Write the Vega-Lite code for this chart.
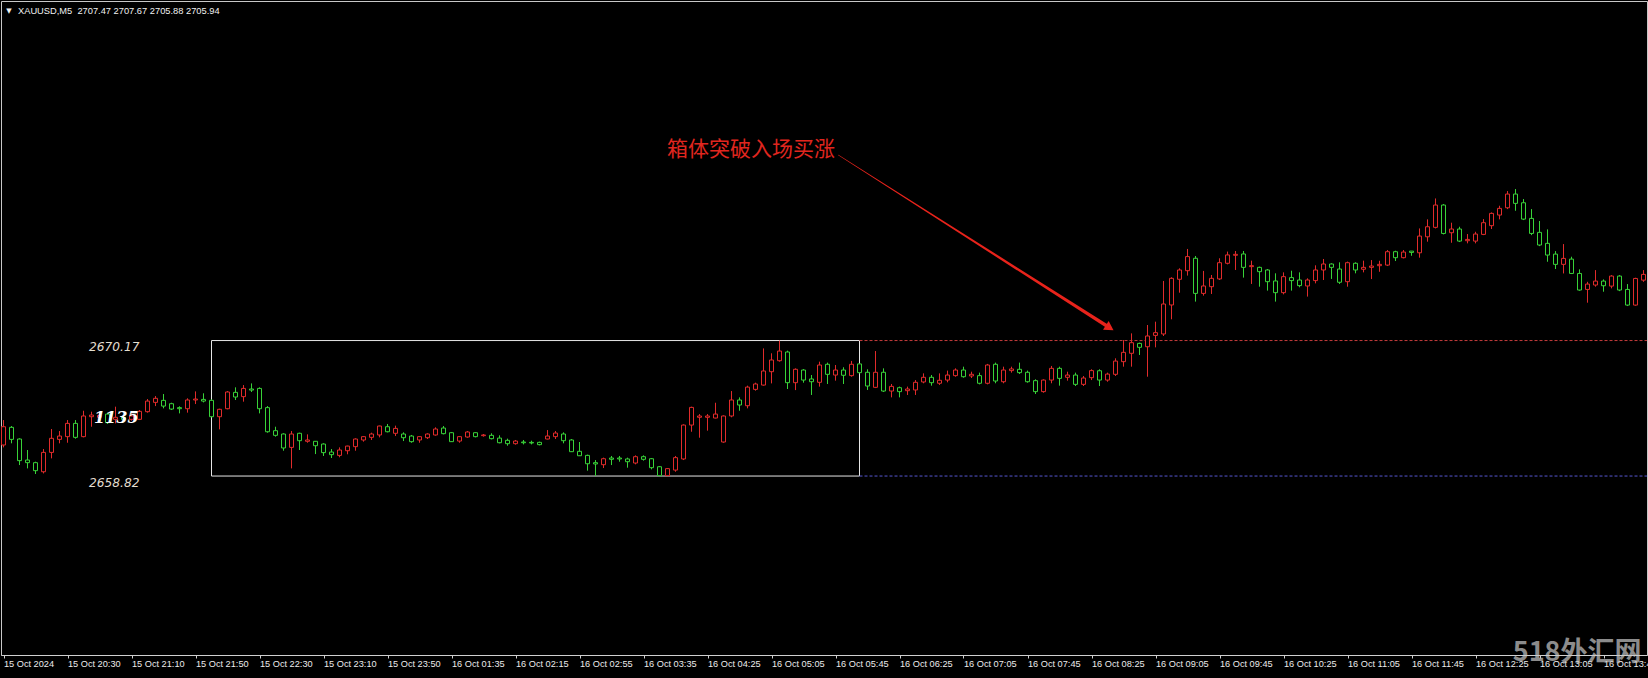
{
"$schema": "https://vega.github.io/schema/vega-lite/v6.json",
"width": 1646, "height": 654,
"autosize": {"type": "none"},
"padding": {"left": 1, "top": 1, "right": 1, "bottom": 23},
"background": "black",
"config": {
  "view": {"stroke": "#c8c8c8", "strokeWidth": 1},
  "axis": {"grid": false, "domainColor": "#d0d0d0", "tickColor": "#d0d0d0", "labelColor": "#ececec", "labelFont": "Liberation Sans", "labelFontSize": 9.2, "tickSize": 3}
},
"datasets": {
"bars": [
{"i":0,"o":2661.42,"h":2663.51,"l":2661.22,"c":2662.95},
{"i":1,"o":2662.90,"h":2663.01,"l":2661.56,"c":2661.89},
{"i":2,"o":2661.92,"h":2661.98,"l":2659.74,"c":2660.11},
{"i":3,"o":2660.16,"h":2661.00,"l":2659.46,"c":2659.94},
{"i":4,"o":2659.94,"h":2660.02,"l":2658.99,"c":2659.27},
{"i":5,"o":2659.18,"h":2661.08,"l":2659.04,"c":2660.80},
{"i":6,"o":2660.80,"h":2662.76,"l":2660.30,"c":2661.98},
{"i":7,"o":2661.89,"h":2662.59,"l":2661.56,"c":2662.17},
{"i":8,"o":2662.12,"h":2663.51,"l":2661.61,"c":2663.23},
{"i":9,"o":2663.23,"h":2663.51,"l":2661.95,"c":2662.06},
{"i":10,"o":2662.12,"h":2664.29,"l":2662.06,"c":2663.85},
{"i":11,"o":2663.79,"h":2664.21,"l":2662.95,"c":2663.93},
{"i":12,"o":2663.74,"h":2664.07,"l":2663.51,"c":2663.90},
{"i":13,"o":2664.01,"h":2664.13,"l":2663.18,"c":2663.29},
{"i":14,"o":2663.57,"h":2664.63,"l":2663.23,"c":2663.74},
{"i":15,"o":2663.74,"h":2663.93,"l":2663.37,"c":2663.57},
{"i":16,"o":2663.57,"h":2664.07,"l":2663.46,"c":2663.85},
{"i":17,"o":2663.57,"h":2664.35,"l":2663.51,"c":2664.24},
{"i":18,"o":2664.21,"h":2665.27,"l":2664.13,"c":2665.10},
{"i":19,"o":2664.99,"h":2665.52,"l":2664.68,"c":2665.33},
{"i":20,"o":2665.16,"h":2665.69,"l":2664.49,"c":2664.68},
{"i":21,"o":2664.88,"h":2664.96,"l":2664.35,"c":2664.43},
{"i":22,"o":2664.55,"h":2664.66,"l":2664.07,"c":2664.46},
{"i":23,"o":2664.46,"h":2665.33,"l":2664.13,"c":2665.19},
{"i":24,"o":2665.19,"h":2665.91,"l":2664.85,"c":2665.27},
{"i":25,"o":2665.24,"h":2665.75,"l":2664.99,"c":2665.10},
{"i":26,"o":2665.16,"h":2665.24,"l":2663.74,"c":2663.79},
{"i":27,"o":2663.79,"h":2664.46,"l":2662.73,"c":2664.41},
{"i":28,"o":2664.46,"h":2665.94,"l":2664.41,"c":2665.86},
{"i":29,"o":2665.83,"h":2666.25,"l":2665.19,"c":2665.44},
{"i":30,"o":2665.47,"h":2666.44,"l":2665.05,"c":2666.16},
{"i":31,"o":2666.11,"h":2666.58,"l":2665.86,"c":2666.02},
{"i":32,"o":2666.16,"h":2666.25,"l":2664.07,"c":2664.46},
{"i":33,"o":2664.55,"h":2664.68,"l":2662.45,"c":2662.53},
{"i":34,"o":2662.62,"h":2662.95,"l":2662.12,"c":2662.23},
{"i":35,"o":2662.34,"h":2662.40,"l":2660.94,"c":2661.17},
{"i":36,"o":2661.22,"h":2662.59,"l":2659.46,"c":2662.34},
{"i":37,"o":2662.40,"h":2662.45,"l":2661.00,"c":2661.78},
{"i":38,"o":2661.73,"h":2662.31,"l":2661.61,"c":2661.84},
{"i":39,"o":2661.73,"h":2661.75,"l":2660.66,"c":2661.36},
{"i":40,"o":2661.50,"h":2661.56,"l":2660.50,"c":2660.78},
{"i":41,"o":2660.83,"h":2661.08,"l":2660.33,"c":2660.61},
{"i":42,"o":2660.55,"h":2661.22,"l":2660.39,"c":2661.00},
{"i":43,"o":2660.94,"h":2661.36,"l":2660.64,"c":2661.33},
{"i":44,"o":2661.28,"h":2661.98,"l":2660.94,"c":2661.92},
{"i":45,"o":2661.84,"h":2662.17,"l":2661.70,"c":2662.12},
{"i":46,"o":2662.06,"h":2662.45,"l":2661.84,"c":2662.34},
{"i":47,"o":2662.26,"h":2663.04,"l":2662.06,"c":2663.01},
{"i":48,"o":2662.95,"h":2663.18,"l":2662.48,"c":2662.53},
{"i":49,"o":2662.40,"h":2663.04,"l":2662.17,"c":2662.81},
{"i":50,"o":2662.34,"h":2662.48,"l":2661.75,"c":2662.03},
{"i":51,"o":2662.17,"h":2662.26,"l":2661.61,"c":2661.70},
{"i":52,"o":2661.84,"h":2662.17,"l":2661.61,"c":2662.12},
{"i":53,"o":2662.03,"h":2662.40,"l":2661.92,"c":2662.34},
{"i":54,"o":2662.26,"h":2662.90,"l":2662.20,"c":2662.76},
{"i":55,"o":2662.84,"h":2663.01,"l":2662.31,"c":2662.37},
{"i":56,"o":2662.45,"h":2662.51,"l":2661.67,"c":2661.70},
{"i":57,"o":2661.75,"h":2662.17,"l":2661.61,"c":2662.12},
{"i":58,"o":2662.09,"h":2662.59,"l":2662.03,"c":2662.51},
{"i":59,"o":2662.45,"h":2662.48,"l":2662.06,"c":2662.12},
{"i":60,"o":2662.20,"h":2662.34,"l":2662.12,"c":2662.26},
{"i":61,"o":2662.23,"h":2662.40,"l":2661.89,"c":2661.95},
{"i":62,"o":2662.00,"h":2662.23,"l":2661.56,"c":2661.61},
{"i":63,"o":2661.81,"h":2661.95,"l":2661.36,"c":2661.53},
{"i":64,"o":2661.53,"h":2661.84,"l":2661.45,"c":2661.75},
{"i":65,"o":2661.67,"h":2661.84,"l":2661.47,"c":2661.61},
{"i":66,"o":2661.64,"h":2661.78,"l":2661.47,"c":2661.59},
{"i":67,"o":2661.64,"h":2661.70,"l":2661.39,"c":2661.45},
{"i":68,"o":2661.92,"h":2662.67,"l":2661.89,"c":2662.17},
{"i":69,"o":2662.12,"h":2662.59,"l":2661.92,"c":2662.42},
{"i":70,"o":2662.34,"h":2662.48,"l":2661.56,"c":2661.78},
{"i":71,"o":2661.84,"h":2661.92,"l":2660.83,"c":2660.86},
{"i":72,"o":2660.89,"h":2661.67,"l":2660.50,"c":2660.52},
{"i":73,"o":2660.55,"h":2660.61,"l":2659.27,"c":2659.85},
{"i":74,"o":2659.94,"h":2660.16,"l":2658.82,"c":2659.83},
{"i":75,"o":2659.77,"h":2660.36,"l":2659.49,"c":2660.27},
{"i":76,"o":2660.33,"h":2660.50,"l":2659.74,"c":2660.22},
{"i":77,"o":2660.33,"h":2660.50,"l":2660.02,"c":2660.25},
{"i":78,"o":2660.25,"h":2660.36,"l":2659.52,"c":2660.02},
{"i":79,"o":2659.91,"h":2660.55,"l":2659.80,"c":2660.44},
{"i":80,"o":2660.44,"h":2660.55,"l":2660.11,"c":2660.22},
{"i":81,"o":2660.27,"h":2660.33,"l":2659.38,"c":2659.52},
{"i":82,"o":2659.60,"h":2659.66,"l":2658.82,"c":2658.85},
{"i":83,"o":2658.85,"h":2659.49,"l":2658.82,"c":2659.44},
{"i":84,"o":2659.32,"h":2660.50,"l":2659.18,"c":2660.36},
{"i":85,"o":2660.25,"h":2663.15,"l":2660.16,"c":2663.09},
{"i":86,"o":2663.09,"h":2664.63,"l":2662.53,"c":2664.57},
{"i":87,"o":2663.74,"h":2664.01,"l":2662.03,"c":2663.85},
{"i":88,"o":2663.74,"h":2664.01,"l":2662.62,"c":2663.85},
{"i":89,"o":2663.68,"h":2664.96,"l":2663.65,"c":2664.01},
{"i":90,"o":2661.67,"h":2663.90,"l":2661.61,"c":2663.85},
{"i":91,"o":2663.85,"h":2665.94,"l":2663.74,"c":2665.19},
{"i":92,"o":2665.19,"h":2665.41,"l":2664.29,"c":2664.77},
{"i":93,"o":2664.71,"h":2666.39,"l":2664.49,"c":2666.27},
{"i":94,"o":2666.08,"h":2666.64,"l":2665.97,"c":2666.53},
{"i":95,"o":2666.44,"h":2669.51,"l":2666.39,"c":2667.62},
{"i":96,"o":2667.56,"h":2669.10,"l":2666.58,"c":2668.54},
{"i":97,"o":2668.48,"h":2670.17,"l":2668.40,"c":2669.29},
{"i":98,"o":2669.21,"h":2669.32,"l":2666.11,"c":2666.64},
{"i":99,"o":2666.64,"h":2667.84,"l":2666.02,"c":2667.76},
{"i":100,"o":2667.70,"h":2667.78,"l":2666.64,"c":2666.86},
{"i":101,"o":2666.95,"h":2667.28,"l":2665.61,"c":2666.72},
{"i":102,"o":2666.67,"h":2668.40,"l":2666.31,"c":2668.12},
{"i":103,"o":2668.18,"h":2668.32,"l":2666.53,"c":2667.34},
{"i":104,"o":2667.28,"h":2668.12,"l":2666.81,"c":2667.70},
{"i":105,"o":2667.70,"h":2667.93,"l":2666.53,"c":2667.26},
{"i":106,"o":2667.23,"h":2668.46,"l":2667.14,"c":2668.18},
{"i":107,"o":2668.21,"h":2668.26,"l":2667.42,"c":2667.48},
{"i":108,"o":2667.51,"h":2667.76,"l":2666.03,"c":2666.36},
{"i":109,"o":2666.25,"h":2669.29,"l":2666.19,"c":2667.51},
{"i":110,"o":2667.51,"h":2667.84,"l":2665.86,"c":2665.94},
{"i":111,"o":2665.94,"h":2666.53,"l":2665.41,"c":2666.33},
{"i":112,"o":2666.22,"h":2666.31,"l":2665.41,"c":2665.89},
{"i":113,"o":2665.97,"h":2666.31,"l":2665.61,"c":2666.11},
{"i":114,"o":2666.03,"h":2666.86,"l":2665.61,"c":2666.67},
{"i":115,"o":2666.70,"h":2667.42,"l":2666.59,"c":2667.09},
{"i":116,"o":2667.09,"h":2667.28,"l":2666.39,"c":2666.64},
{"i":117,"o":2666.59,"h":2667.42,"l":2666.45,"c":2666.84},
{"i":118,"o":2666.86,"h":2667.65,"l":2666.67,"c":2667.28},
{"i":119,"o":2667.23,"h":2667.84,"l":2667.14,"c":2667.70},
{"i":120,"o":2667.70,"h":2667.98,"l":2667.06,"c":2667.14},
{"i":121,"o":2667.20,"h":2667.56,"l":2667.03,"c":2667.34},
{"i":122,"o":2667.23,"h":2667.48,"l":2666.50,"c":2666.59},
{"i":123,"o":2666.59,"h":2668.21,"l":2666.50,"c":2668.12},
{"i":124,"o":2668.18,"h":2668.32,"l":2666.59,"c":2666.78},
{"i":125,"o":2666.72,"h":2667.98,"l":2666.59,"c":2667.70},
{"i":126,"o":2667.65,"h":2667.98,"l":2667.48,"c":2667.79},
{"i":127,"o":2667.76,"h":2668.32,"l":2667.37,"c":2667.48},
{"i":128,"o":2667.51,"h":2667.65,"l":2666.64,"c":2666.72},
{"i":129,"o":2666.81,"h":2666.92,"l":2665.69,"c":2665.89},
{"i":130,"o":2665.89,"h":2666.92,"l":2665.80,"c":2666.86},
{"i":131,"o":2666.86,"h":2668.04,"l":2666.59,"c":2667.84},
{"i":132,"o":2667.84,"h":2667.98,"l":2666.39,"c":2667.00},
{"i":133,"o":2667.09,"h":2667.56,"l":2666.81,"c":2667.28},
{"i":134,"o":2667.28,"h":2667.48,"l":2666.36,"c":2666.50},
{"i":135,"o":2666.50,"h":2667.20,"l":2666.36,"c":2667.03},
{"i":136,"o":2667.06,"h":2667.76,"l":2666.86,"c":2667.65},
{"i":137,"o":2667.64,"h":2667.76,"l":2666.36,"c":2666.86},
{"i":138,"o":2666.86,"h":2667.48,"l":2666.72,"c":2667.36},
{"i":139,"o":2667.34,"h":2668.68,"l":2667.20,"c":2668.45},
{"i":140,"o":2668.40,"h":2670.21,"l":2667.98,"c":2669.18},
{"i":141,"o":2669.10,"h":2670.77,"l":2667.98,"c":2669.99},
{"i":142,"o":2669.93,"h":2669.99,"l":2668.96,"c":2669.60},
{"i":143,"o":2669.65,"h":2671.47,"l":2667.14,"c":2670.55},
{"i":144,"o":2670.60,"h":2671.75,"l":2669.60,"c":2670.83},
{"i":145,"o":2670.72,"h":2675.16,"l":2670.55,"c":2673.23},
{"i":146,"o":2673.15,"h":2675.47,"l":2671.95,"c":2675.38},
{"i":147,"o":2675.30,"h":2676.22,"l":2674.18,"c":2676.08},
{"i":148,"o":2676.02,"h":2677.84,"l":2675.61,"c":2677.20},
{"i":149,"o":2677.06,"h":2677.25,"l":2673.43,"c":2674.12},
{"i":150,"o":2674.12,"h":2676.00,"l":2673.93,"c":2674.74},
{"i":151,"o":2674.68,"h":2675.66,"l":2674.07,"c":2675.38},
{"i":152,"o":2675.33,"h":2677.06,"l":2675.24,"c":2676.69},
{"i":153,"o":2676.64,"h":2677.62,"l":2676.55,"c":2677.34},
{"i":154,"o":2677.31,"h":2677.67,"l":2676.08,"c":2677.39},
{"i":155,"o":2677.42,"h":2677.67,"l":2675.44,"c":2676.30},
{"i":156,"o":2676.36,"h":2676.86,"l":2674.91,"c":2676.44},
{"i":157,"o":2676.30,"h":2676.36,"l":2674.68,"c":2675.94},
{"i":158,"o":2676.08,"h":2676.16,"l":2674.35,"c":2675.10},
{"i":159,"o":2675.16,"h":2675.80,"l":2673.43,"c":2674.18},
{"i":160,"o":2674.18,"h":2675.88,"l":2674.04,"c":2675.52},
{"i":161,"o":2675.44,"h":2676.02,"l":2674.35,"c":2675.19},
{"i":162,"o":2675.24,"h":2675.88,"l":2674.63,"c":2674.77},
{"i":163,"o":2674.74,"h":2675.38,"l":2673.85,"c":2675.24},
{"i":164,"o":2675.19,"h":2676.47,"l":2674.96,"c":2676.08},
{"i":165,"o":2676.08,"h":2677.00,"l":2675.24,"c":2676.58},
{"i":166,"o":2676.58,"h":2676.64,"l":2675.33,"c":2676.30},
{"i":167,"o":2676.16,"h":2676.72,"l":2674.91,"c":2675.05},
{"i":168,"o":2675.10,"h":2676.78,"l":2674.68,"c":2676.69},
{"i":169,"o":2676.64,"h":2676.72,"l":2675.80,"c":2676.08},
{"i":170,"o":2676.14,"h":2676.86,"l":2675.88,"c":2676.30},
{"i":171,"o":2676.30,"h":2676.91,"l":2675.32,"c":2676.41},
{"i":172,"o":2676.44,"h":2676.85,"l":2675.93,"c":2676.55},
{"i":173,"o":2676.49,"h":2677.75,"l":2676.41,"c":2677.61},
{"i":174,"o":2677.61,"h":2677.69,"l":2676.83,"c":2677.11},
{"i":175,"o":2677.11,"h":2677.75,"l":2677.05,"c":2677.58},
{"i":176,"o":2677.66,"h":2677.66,"l":2677.27,"c":2677.55},
{"i":177,"o":2677.52,"h":2679.56,"l":2677.11,"c":2678.92},
{"i":178,"o":2678.86,"h":2680.32,"l":2678.45,"c":2679.70},
{"i":179,"o":2679.65,"h":2682.07,"l":2679.56,"c":2681.52},
{"i":180,"o":2681.52,"h":2681.60,"l":2679.06,"c":2679.14},
{"i":181,"o":2679.20,"h":2680.04,"l":2678.36,"c":2679.51},
{"i":182,"o":2679.51,"h":2679.70,"l":2678.42,"c":2678.50},
{"i":183,"o":2678.53,"h":2679.09,"l":2678.31,"c":2678.64},
{"i":184,"o":2678.50,"h":2679.28,"l":2678.31,"c":2679.09},
{"i":185,"o":2679.06,"h":2680.34,"l":2679.00,"c":2680.04},
{"i":186,"o":2679.79,"h":2680.90,"l":2679.51,"c":2680.82},
{"i":187,"o":2680.68,"h":2681.46,"l":2680.32,"c":2681.24},
{"i":188,"o":2681.29,"h":2682.69,"l":2681.18,"c":2682.44},
{"i":189,"o":2682.44,"h":2682.86,"l":2681.04,"c":2681.66},
{"i":190,"o":2681.71,"h":2682.02,"l":2680.26,"c":2680.34},
{"i":191,"o":2680.40,"h":2681.18,"l":2679.00,"c":2679.14},
{"i":192,"o":2679.23,"h":2680.18,"l":2678.08,"c":2678.17},
{"i":193,"o":2678.31,"h":2679.48,"l":2676.77,"c":2677.33},
{"i":194,"o":2677.41,"h":2677.66,"l":2676.16,"c":2676.55},
{"i":195,"o":2676.55,"h":2678.25,"l":2675.79,"c":2677.05},
{"i":196,"o":2676.99,"h":2677.19,"l":2675.74,"c":2675.79},
{"i":197,"o":2675.79,"h":2676.13,"l":2674.34,"c":2674.40},
{"i":198,"o":2674.45,"h":2675.09,"l":2673.34,"c":2674.90},
{"i":199,"o":2674.82,"h":2676.07,"l":2674.68,"c":2675.15},
{"i":200,"o":2675.15,"h":2675.29,"l":2674.26,"c":2674.76},
{"i":201,"o":2674.73,"h":2675.65,"l":2674.54,"c":2675.57},
{"i":202,"o":2675.57,"h":2675.65,"l":2674.31,"c":2674.40},
{"i":203,"o":2674.45,"h":2674.90,"l":2673.06,"c":2673.14},
{"i":204,"o":2673.14,"h":2675.43,"l":2673.08,"c":2675.37},
{"i":205,"o":2675.23,"h":2676.07,"l":2675.09,"c":2675.71}
]
},
"encoding": {
  "x": {"field": "i", "type": "quantitative", "scale": {"domain": [-0.3125, 205.4375], "nice": false, "zero": false, "padding": 0},
    "axis": {"orient": "bottom", "title": null, "values": [0,8,16,24,32,40,48,56,64,72,80,88,96,104,112,120,128,136,144,152,160,168,176,184,192,200],
      "labelExpr": "['15 Oct 2024','15 Oct 20:30','15 Oct 21:10','15 Oct 21:50','15 Oct 22:30','15 Oct 23:10','15 Oct 23:50','16 Oct 01:35','16 Oct 02:15','16 Oct 02:55','16 Oct 03:35','16 Oct 04:25','16 Oct 05:05','16 Oct 05:45','16 Oct 06:25','16 Oct 07:05','16 Oct 07:45','16 Oct 08:25','16 Oct 09:05','16 Oct 09:45','16 Oct 10:25','16 Oct 11:05','16 Oct 11:45','16 Oct 12:25','16 Oct 13:05','16 Oct 13:45'][round(datum.value/8)]",
      "labelAlign": "left", "labelBaseline": "top", "labelPadding": 1, "labelOffset": 0, "labelOverlap": false, "labelFlush": false, "labelBound": false, "tickSize": 3}}
},
"layer": [
{
  "data": {"values": [{"i": 26, "i2": 107, "p": 2658.82, "p2": 2670.17}]},
  "mark": {"type": "rect", "fillOpacity": 0, "stroke": "#e6e6e6", "strokeWidth": 1},
  "encoding": {
    "x2": {"field": "i2"},
    "y": {"field": "p", "type": "quantitative", "scale": {"domain": [2643.83, 2698.61], "nice": false, "zero": false}, "axis": null},
    "y2": {"field": "p2"}
  }
},
{
  "data": {"values": [{"i": 107, "i2": 205.44, "p": 2670.17}]},
  "mark": {"type": "rule", "stroke": "#c23b3b", "strokeWidth": 1, "strokeDash": [3, 2]},
  "encoding": {
    "x2": {"field": "i2"},
    "y": {"field": "p", "type": "quantitative", "scale": {"domain": [2643.83, 2698.61], "nice": false, "zero": false}, "axis": null}
  }
},
{
  "data": {"values": [{"i": 107, "i2": 205.44, "p": 2658.82}]},
  "mark": {"type": "rule", "stroke": "#5757d2", "strokeWidth": 1, "strokeDash": [3, 2]},
  "encoding": {
    "x2": {"field": "i2"},
    "y": {"field": "p", "type": "quantitative", "scale": {"domain": [2643.83, 2698.61], "nice": false, "zero": false}, "axis": null}
  }
},
{
  "data": {"name": "bars"},
  "mark": {"type": "rule", "strokeWidth": 1},
  "encoding": {
    "y": {"field": "l", "type": "quantitative", "scale": {"domain": [2643.83, 2698.61], "nice": false, "zero": false}, "axis": null},
    "y2": {"field": "h"},
    "stroke": {"condition": {"test": "datum.c >= datum.o", "value": "#e02b2b"}, "value": "#38d238"}
  }
},
{
  "data": {"name": "bars"},
  "mark": {"type": "bar", "width": 4, "fill": "black", "strokeWidth": 1},
  "encoding": {
    "y": {"field": "o", "type": "quantitative", "scale": {"domain": [2643.83, 2698.61], "nice": false, "zero": false}, "axis": null},
    "y2": {"field": "c"},
    "stroke": {"condition": {"test": "datum.c >= datum.o", "value": "#e02b2b"}, "value": "#38d238"}
  }
},
{
  "data": {"values": [{"i": 10.69, "p": 2669.63, "t": "2670.17"}, {"i": 10.69, "p": 2658.21, "t": "2658.82"}]},
  "mark": {"type": "text", "align": "left", "baseline": "middle", "font": "DejaVu Sans", "fontStyle": "italic", "fontSize": 12.2, "fill": "#e4ded0"},
  "encoding": {
    "y": {"field": "p", "type": "quantitative", "scale": {"domain": [2643.83, 2698.61], "nice": false, "zero": false}, "axis": null},
    "text": {"field": "t"}
  }
},
{
  "data": {"values": [{"i": 11.31, "p": 2663.68, "t": "1135"}]},
  "mark": {"type": "text", "align": "left", "baseline": "middle", "font": "DejaVu Serif", "fontStyle": "italic", "fontWeight": "bold", "fontSize": 16, "fill": "#ffffff"},
  "encoding": {
    "y": {"field": "p", "type": "quantitative", "scale": {"domain": [2643.83, 2698.61], "nice": false, "zero": false}, "axis": null},
    "text": {"field": "t"}
  }
},
{
  "data": {"values": [{"i": 103.94, "p": 2686.17, "t": "箱体突破入场买涨"}]},
  "mark": {"type": "text", "align": "right", "baseline": "middle", "font": "Noto Sans CJK SC", "fontSize": 21, "fill": "#e0261f"},
  "encoding": {
    "y": {"field": "p", "type": "quantitative", "scale": {"domain": [2643.83, 2698.61], "nice": false, "zero": false}, "axis": null},
    "text": {"field": "t"}
  }
},
{
  "data": {"values": [{"i": 104.35, "p": 2685.71}, {"i": 138.27, "p": 2671.24}]},
  "mark": {"type": "trail", "color": "#e8231b"},
  "encoding": {
    "y": {"field": "p", "type": "quantitative", "scale": {"domain": [2643.83, 2698.61], "nice": false, "zero": false}, "axis": null},
    "size": {"field": "i", "type": "quantitative", "scale": {"domain": [104.35, 138.27], "range": [0.4, 3.6]}, "legend": null}
  }
},
{
  "data": {"values": [{"i": 138.27, "p": 2671.24}]},
  "mark": {"type": "point", "shape": "triangle-right", "angle": 32.5, "size": 110, "filled": true, "color": "#e8231b", "opacity": 1},
  "encoding": {
    "y": {"field": "p", "type": "quantitative", "scale": {"domain": [2643.83, 2698.61], "nice": false, "zero": false}, "axis": null}
  }
},
{
  "data": {"values": [{"i": 0.6875, "p": 2697.80, "t": "▼"}]},
  "mark": {"type": "text", "align": "center", "baseline": "middle", "font": "DejaVu Sans", "fontSize": 7, "fill": "#f0f0f0"},
  "encoding": {
    "y": {"field": "p", "type": "quantitative", "scale": {"domain": [2643.83, 2698.61], "nice": false, "zero": false}, "axis": null},
    "text": {"field": "t"}
  }
},
{
  "data": {"values": [{"i": 1.8125, "p": 2697.80, "t": "XAUUSD,M5\u00a0\u00a02707.47 2707.67 2705.88 2705.94"}]},
  "mark": {"type": "text", "align": "left", "baseline": "middle", "font": "Liberation Sans", "fontSize": 9.3, "fill": "#f0f0f0"},
  "encoding": {
    "y": {"field": "p", "type": "quantitative", "scale": {"domain": [2643.83, 2698.61], "nice": false, "zero": false}, "axis": null},
    "text": {"field": "t"}
  }
},
{
  "data": {"values": [{"i": 196.7, "p": 2644.0, "t": "518外汇网"}]},
  "mark": {"type": "text", "align": "center", "baseline": "middle", "font": "Noto Sans CJK SC", "fontWeight": "bold", "fontSize": 27, "fill": "#c8c8c8", "opacity": 0.7},
  "encoding": {
    "y": {"field": "p", "type": "quantitative", "scale": {"domain": [2643.83, 2698.61], "nice": false, "zero": false}, "axis": null},
    "text": {"field": "t"}
  }
}
]
}
